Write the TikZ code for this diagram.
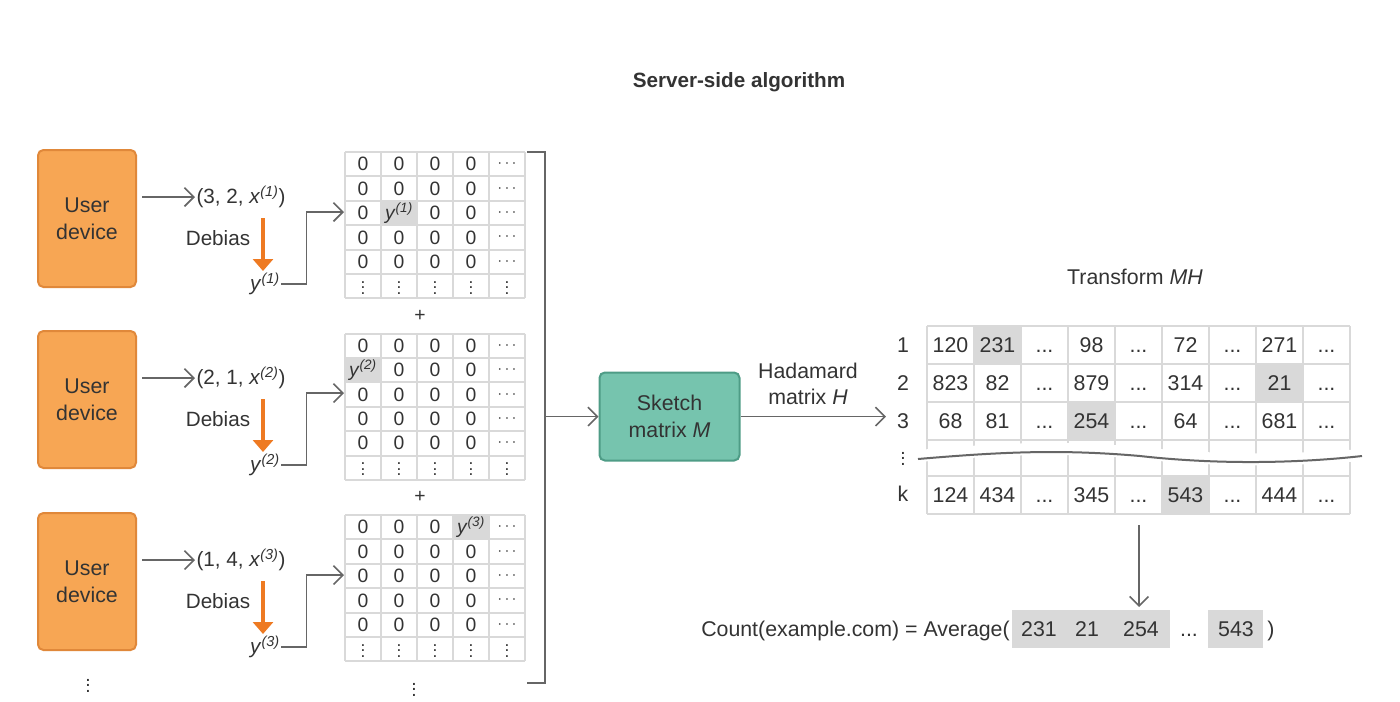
\documentclass[tikz,border=0pt]{standalone}
\usepackage{fontspec}
\setmainfont{Liberation Sans}
\usetikzlibrary{arrows.meta}
\definecolor{org}{HTML}{F7A654}
\definecolor{orgd}{HTML}{E0883A}
\definecolor{orga}{HTML}{EE7A22}
\definecolor{teal}{HTML}{76C4AE}
\definecolor{teald}{HTML}{4E9C86}
\definecolor{grid}{HTML}{D9D9D9}
\definecolor{hl}{HTML}{D9D9D9}
\definecolor{txt}{HTML}{333333}
\definecolor{ln}{HTML}{666666}
\newcommand\yy[1]{\textit{y}\textsuperscript{\textit{(#1)}}}
\newcommand\xx[1]{\textit{x}\textsuperscript{\textit{(#1)}}}
\newcommand\vd{$\vdots$}
\newcommand\el{...}
\newcommand\mymat[4]{% top, hl row, hl col, label
  \fill[hl] ({345+36*(#3)},{#1+24.4*(#2)}) rectangle ++(36,24.4);
  \foreach \r in {0,1,2,3,4,5}{
    \foreach \c in {0,1,2,3,4}{
      \pgfmathtruncatemacro\isd{\r==5 ? 1 : 0}
      \pgfmathtruncatemacro\ish{(\r==#2 && \c==#3) ? 1 : 0}
      \ifnum\ish=1
        \node[cell] at ({363+36*\c},{#1+12.2+24.4*\r}) {#4};
      \else\ifnum\isd=1
        \node[cell,anchor=base,font=\fontsize{13}{14}\selectfont] at ({363+36*\c},{#1+20+24.4*\r}) {\vd};
      \else\ifnum\c=4
        \node[cell,font=\fontsize{13}{14}\selectfont] at ({363+36*\c},{#1+12.2+24.4*\r}) {$\cdots$};
      \else
        \node[cell] at ({363+36*\c},{#1+12.2+24.4*\r}) {0};
      \fi\fi\fi
    }}
  \foreach \r in {0,1,2,3,4,5,6} \draw[grid,line width=1.5] (345,{#1+24.4*\r}) -- (525,{#1+24.4*\r});
  \foreach \c in {0,1,2,3,4,5} \draw[grid,line width=1.5] ({345+36*\c},#1) -- ({345+36*\c},{#1+146.4});
}
\newcommand\userrow[4]{% top y, a, b, idx
  \node[user] (u#4) at (87,{#1+68.5}) {User\\device};
  \node[txtn,anchor=west] (t#4) at (195,{#1+47}) {(#2, #3, \xx{#4})};
  \coordinate (s#4) at (142,{#1+47});
  \draw[conn] (s#4) -- (t#4.west);
  \node[txtn] (d#4) at (218,{#1+88}) {Debias};
  \node[txtn] (y#4) at (265,{#1+134}) {\yy{#4}};
  \coordinate (oa#4) at (263,{#1+68});
  \coordinate (ob#4) at (263,{#1+121});
  \draw[orga,line width=3.5,-{Triangle[length=9,width=15]}] (oa#4) -- (ob#4);
  \coordinate (m#4) at (344,{#1+62});
  \draw[conn] (y#4.east) -- ++(25,0) |- (m#4);
}
\begin{document}
\begin{tikzpicture}[x=0.75pt,y=-0.75pt,
  font=\fontsize{14.5}{16}\selectfont,
  every node/.style={text=txt},
  cell/.style={inner sep=0pt},
  txtn/.style={inner sep=1pt,font=\fontsize{15.5}{18}\selectfont},
  user/.style={draw=orgd,fill=org,line width=1.5,rounded corners=4,minimum width=73.5pt,minimum height=102.75pt,align=center,inner sep=0pt,font=\fontsize{16}{20}\selectfont},
  conn/.style={draw=ln,line width=1.2,-{Straight Barb[length=7,width=14]}},
  tab/.style={inner sep=0pt,font=\fontsize{16}{18}\selectfont}]
\useasboundingbox (0,0) rectangle (1400,701);
\node[font=\bfseries\fontsize{15.5}{18}\selectfont] (title) at (739,82) {Server-side algorithm};
\userrow{150}{3}{2}{1}
\userrow{331}{2}{1}{2}
\userrow{513}{1}{4}{3}
\node[anchor=base] at (88,692) {\vd};
\mymat{152}{2}{1}{\yy{1}}
\mymat{333.5}{1}{0}{\yy{2}}
\mymat{515}{0}{3}{\yy{3}}
\node at (420,316) {+};
\node at (420,497) {+};
\node[anchor=base] at (414,696) {\vd};
\coordinate (b1) at (527,152);
\coordinate (b2) at (527,683);
\draw[ln,line width=1.2] (b1) -- (545,152) -- (545,683) -- (b2);
\node[draw=teald,fill=teal,line width=1.5,rounded corners=4,minimum width=105pt,minimum height=66pt,align=center,inner sep=0pt,font=\fontsize{16}{20}\selectfont] (sk) at (669.5,416.5) {Sketch\\matrix \textit{M}};
\coordinate (bm) at (545,416.5);
\draw[conn] (bm) -- (sk.west);
\coordinate (hend) at (886,416.5);
\draw[conn] (sk.east) -- (hend);
\node[align=center,font=\fontsize{16}{20}\selectfont] (had) at (808,384) {Hadamard\\matrix \textit{H}};
\node[font=\fontsize{16}{20}\selectfont] (tmh) at (1135,277) {Transform \textit{MH}};
\fill[hl] (974,326) rectangle (1021,364);
\fill[hl] (1256,364) rectangle (1303,402);
\fill[hl] (1068,402) rectangle (1115,440);
\fill[hl] (1162,476) rectangle (1209,514);
\foreach \y in {326,364,402,440,476,514} \draw[grid,line width=1.5] (927,\y) -- (1350,\y);
\foreach \i in {0,1,2,3,4,5,6,7,8,9} \draw[grid,line width=1.5] ({927+47*\i},326) -- ({927+47*\i},514);
\draw[white,line width=9] (918,456) .. controls (1000,449) and (1060,446) .. (1140,453) .. controls (1220,462) and (1300,460) .. (1362,455);
\draw[ln,line width=1.5] (918,459) .. controls (1000,452) and (1060,449) .. (1140,456) .. controls (1220,465) and (1300,463) .. (1362,456);
\foreach \lab [count=\i] in {1,2,3} \node[tab] at (903,{345+38*(\i-1)}) {\lab};
\node[tab] at (903,494) {k};
\node[anchor=base] at (903,465) {\vd};
\foreach \row/\y in {{120,231,\el,98,\el,72,\el,271,\el}/345,{823,82,\el,879,\el,314,\el,21,\el}/383,{68,81,\el,254,\el,64,\el,681,\el}/421,{124,434,\el,345,\el,543,\el,444,\el}/495}{
  \foreach \v [count=\i] in \row {
    \node[tab,anchor=base] at ({950.5+47*(\i-1)},{\y+7}) {\v};
  }}
\coordinate (dtop) at (1139,525);
\coordinate (dbot) at (1139,607);
\draw[ln,line width=1.2,-{Straight Barb[length=7,width=14]}] (dtop) -- (dbot);
\fill[hl] (1012,610) rectangle (1170,648);
\fill[hl] (1208,610) rectangle (1263,648);
\node[tab,anchor=base east] (cnt) at (1010,636) {Count(example.com) = Average(};
\node[tab,anchor=base] at (1039,636) {231};
\node[tab,anchor=base] at (1087,636) {21};
\node[tab,anchor=base] at (1141,636) {254};
\node[tab,anchor=base] at (1189,636) {...};
\node[tab,anchor=base] at (1236,636) {543};
\node[tab,anchor=base] at (1271,636) {)};
\end{tikzpicture}
\end{document}
